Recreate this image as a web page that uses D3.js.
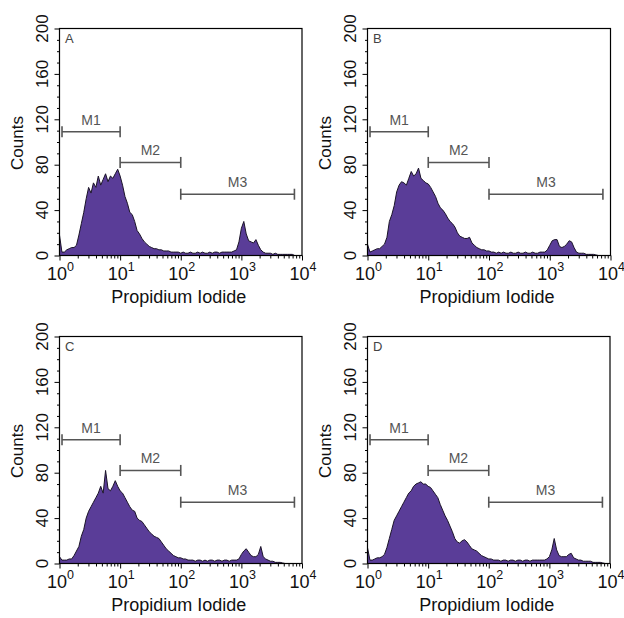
<!DOCTYPE html>
<html>
<head>
<meta charset="utf-8">
<script src="https://cdn.jsdelivr.net/npm/d3@7"></script>
<style>
  html, body { margin: 0; padding: 0; background: #ffffff; }
  text { font-family: "Liberation Sans", Arial, Helvetica, sans-serif; }
</style>
</head>
<body>
<script>
// ---------------- data ----------------
const panelLetters = ["A", "B", "C", "D"];

// channel grid: log10(PI) positions 0.00, 0.04, ... 4.00
const channelLog = d3.range(0, 101).map(i => +(i * 0.04).toFixed(2));

const countsA = [18,3,3,5,6,7,7,9,18,28, 38,50,60,55,64,60,70,62,67,72,
                 65,70,68,72,76,70,62,52,46,38, 36,30,22,19,15,12,10,8,7,6,
                 6,5,5,4,4,4,3,3,3,3, 2,3,2,2,3,2,2,3,2,3,
                 2,2,3,2,3,3,2,3,3,3, 3,3,4,5,12,24,30,19,13,12,
                 11,14,9,5,3,2,2,2,1,2, 1,1,1,1,1,1,1,0,0,0, 0];
const countsB = [10,3,4,5,6,6,8,10,16,30, 36,44,56,62,65,64,62,68,74,70,
                 72,77,68,66,64,63,60,56,52,46, 42,40,37,33,30,28,25,20,17,16,
                 15,15,16,11,9,7,6,5,5,4, 4,3,3,2,3,2,3,2,2,3,
                 2,2,3,2,2,3,2,2,3,2, 2,3,3,3,5,9,13,14,14,8,
                 7,8,10,13,12,7,3,2,2,2, 1,1,1,1,0.5,0,0,0,0,0, 0];
const countsC = [6,3,3,3,4,4,7,11,15,24, 30,40,46,50,54,58,62,68,62,82,
                 66,64,68,73,68,64,62,58,54,50, 47,46,40,38,37,34,31,28,26,24,
                 23,22,19,16,13,11,9,7,6,5, 5,4,4,3,3,3,2,3,3,2,
                 3,2,3,3,2,3,3,2,3,3, 2,3,3,3,4,8,11,13,10,7,
                 6,6,8,15,6,4,3,2,2,1, 1,1,0.5,0,0,0,0,0,0,0, 0];
const countsD = [14,3,3,4,5,5,6,8,14,22, 30,38,42,46,50,54,58,62,64,68,
                 70,71,72,70,70,68,67,64,61,58, 52,47,42,38,33,28,22,19,18,20,
                 21,19,16,13,12,11,9,7,6,5, 4,4,3,3,3,2,3,3,2,3,
                 3,2,3,3,2,3,3,2,3,3, 3,3,3,3,4,6,12,22,12,7,
                 6,6,6,8,9,5,4,3,3,2, 2,2,2,1,1,1,1,0.5,0,0, 0];
const panelCounts = [countsA, countsB, countsC, countsD];

const yTickValues = [0, 40, 80, 120, 160, 200];
const xTickExponents = [0, 1, 2, 3, 4];

const markerNames  = ["M1", "M2", "M3"];
const markerStarts = [1.1, 10, 100];
const markerEnds   = [10, 100, 7500];
const markerLevels = [109, 82, 54];

const xTitle = "Propidium Iodide";
const yTitle = "Counts";

// ---------------- layout ----------------
const W = 624, H = 618;
const boxes = [
  { x0: 59.5,  x1: 302,   y0: 28.5,  y1: 255.5 },
  { x0: 367.5, x1: 610.5, y0: 28.5,  y1: 255.5 },
  { x0: 59.5,  x1: 302,   y0: 336.5, y1: 563.5 },
  { x0: 367.5, x1: 610,   y0: 336.5, y1: 563.5 }
];

const fillColor = "#5a3d98";
const svg = d3.select("body").append("svg")
  .attr("width", W).attr("height", H)
  .attr("viewBox", `0 0 ${W} ${H}`);

panelLetters.forEach((letter, p) => {
  const b = boxes[p];
  const x = d3.scaleLog().domain([1, 10000]).range([b.x0, b.x1]);
  const y = d3.scaleLinear().domain([0, 200]).range([b.y1, b.y0]);
  const g = svg.append("g");

  const data = channelLog.map((lg, i) => ({ v: Math.pow(10, lg), c: panelCounts[p][i] }));

  // histogram
  g.append("path")
    .datum(data)
    .attr("fill", fillColor)
    .attr("d", d3.area().x(d => x(d.v)).y0(y(0)).y1(d => y(d.c)));
  g.append("path")
    .datum(data)
    .attr("fill", "none")
    .attr("stroke", "#1b1428")
    .attr("stroke-width", 1)
    .attr("stroke-linejoin", "round")
    .attr("d", d3.line().x(d => x(d.v)).y(d => y(d.c)));

  // frame
  g.append("rect")
    .attr("x", b.x0).attr("y", b.y0)
    .attr("width", b.x1 - b.x0).attr("height", b.y1 - b.y0)
    .attr("fill", "none").attr("stroke", "#000").attr("stroke-width", 1.2);

  // y axis ticks
  const yMajor = d3.axisLeft(y).tickValues(yTickValues).tickSize(5).tickFormat("");
  const yMinor = d3.axisLeft(y).tickValues(d3.range(0, 201, 10).filter(v => v % 40 !== 0))
                  .tickSize(2.5).tickFormat("");
  [yMajor, yMinor].forEach(ax => {
    const a = g.append("g").attr("transform", `translate(${b.x0},0)`).call(ax);
    a.select(".domain").remove();
    a.selectAll("line").attr("stroke", "#000");
  });
  // y tick labels (rotated)
  yTickValues.forEach(v => {
    g.append("text")
      .attr("transform", `translate(${b.x0 - 11.5},${y(v)}) rotate(-90)`)
      .attr("text-anchor", "middle")
      .attr("font-size", 17)
      .attr("fill", "#111")
      .text(v);
  });

  // x axis ticks
  const majors = xTickExponents.map(e => Math.pow(10, e));
  const minors = [];
  for (let e = 0; e < 4; e++) for (let k = 2; k <= 9; k++) minors.push(k * Math.pow(10, e));
  const xMajor = d3.axisBottom(x).tickValues(majors).tickSize(5).tickFormat("");
  const xMinor = d3.axisBottom(x).tickValues(minors).tickSize(3).tickFormat("");
  [xMajor, xMinor].forEach(ax => {
    const a = g.append("g").attr("transform", `translate(0,${b.y1})`).call(ax);
    a.select(".domain").remove();
    a.selectAll("line").attr("stroke", "#000");
  });
  xTickExponents.forEach(e => {
    const t = g.append("text")
      .attr("x", x(Math.pow(10, e)) + 1)
      .attr("y", b.y1 + 24)
      .attr("text-anchor", "middle")
      .attr("font-size", 18)
      .attr("fill", "#111");
    t.append("tspan").text("10");
    t.append("tspan").attr("font-size", 12.5).attr("dy", -8.5).text(e);
  });

  // axis titles
  g.append("text")
    .attr("x", (b.x0 + b.x1) / 2 - 2)
    .attr("y", b.y1 + 47)
    .attr("text-anchor", "middle")
    .attr("font-size", 18)
    .attr("fill", "#111")
    .text(xTitle);
  g.append("text")
    .attr("transform", `translate(${b.x0 - 36.5},${(b.y0 + b.y1) / 2 + 1}) rotate(-90)`)
    .attr("text-anchor", "middle")
    .attr("font-size", 17)
    .attr("fill", "#111")
    .text(yTitle);

  // panel letter
  g.append("text")
    .attr("x", b.x0 + 5.5).attr("y", b.y0 + 14.5)
    .attr("font-size", 13)
    .attr("fill", "#444")
    .text(letter);

  // markers
  markerNames.forEach((m, k) => {
    const xa = x(markerStarts[k]), xb = x(markerEnds[k]), yy = y(markerLevels[k]);
    const mg = g.append("g").attr("stroke", "#555").attr("stroke-width", 1.6);
    mg.append("line").attr("x1", xa).attr("x2", xb).attr("y1", yy).attr("y2", yy);
    mg.append("line").attr("x1", xa).attr("x2", xa).attr("y1", yy - 5.5).attr("y2", yy + 5.5);
    mg.append("line").attr("x1", xb).attr("x2", xb).attr("y1", yy - 5.5).attr("y2", yy + 5.5);
    g.append("text")
      .attr("x", (xa + xb) / 2).attr("y", yy - 7)
      .attr("text-anchor", "middle")
      .attr("font-size", 14)
      .attr("fill", "#555")
      .text(m);
  });
});
</script>
</body>
</html>
